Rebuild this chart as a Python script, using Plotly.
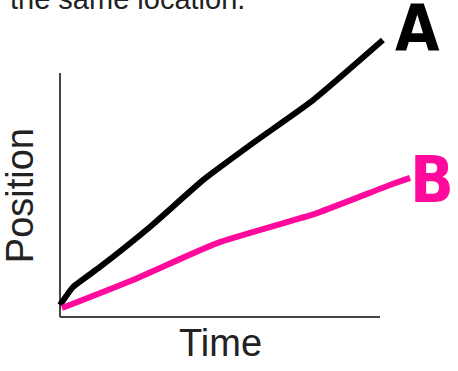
import plotly.graph_objects as go

# hand-sketched position vs time (arbitrary units)
time_a = [0, 0.41, 1.25, 2.81, 4.47, 6.16, 7.91, 10.09]
pos_a = [0.49, 1.23, 2.05, 3.69, 5.61, 7.25, 8.89, 11.35]

time_b = [0.06, 2.28, 4.91, 8.03, 10.31, 10.94]
pos_b = [0.37, 1.52, 3.03, 4.26, 5.41, 5.70]

axis_end_t = 10.0
axis_end_p = 10.0

fig = go.Figure()

fig.add_trace(go.Scatter(x=time_a, y=pos_a, mode="lines",
                         line=dict(color="black", width=6, shape="spline", smoothing=0.5),
                         showlegend=False, hoverinfo="skip"))
fig.add_trace(go.Scatter(x=time_b, y=pos_b, mode="lines",
                         line=dict(color="#ff0a9c", width=6, shape="spline", smoothing=0.5),
                         showlegend=False, hoverinfo="skip"))

# axes drawn as plain lines (no ticks in the sketch)
fig.add_shape(type="line", x0=0, x1=0, y0=0, y1=axis_end_p,
              line=dict(color="#444", width=2), layer="below")
fig.add_shape(type="line", x0=0, x1=axis_end_t, y0=0, y1=0,
              line=dict(color="#444", width=2), layer="below")

fig.add_annotation(text="Time", x=axis_end_t / 2, y=-1.05, xref="x", yref="y",
                   showarrow=False, font=dict(size=38, color="#222", family="Liberation Sans"))
fig.add_annotation(text="Position", x=-1.25, y=4.95, xref="x", yref="y",
                   showarrow=False, textangle=-90,
                   font=dict(size=38, color="#222", family="Liberation Sans"))
# caption line from the page above, mostly cut off at the top edge
fig.add_annotation(text="the same location.", x=0.018, y=1, xref="paper", yref="paper",
                   showarrow=False, xanchor="left", yanchor="middle", yshift=1,
                   font=dict(size=29, color="#222", family="Liberation Sans"))

# handwritten letters
fig.add_annotation(text="<b>A</b>", x=11.16, y=11.8, xref="x", yref="y",
                   showarrow=False,
                   font=dict(size=64, color="black", family="DejaVu Sans Condensed, Roboto"))
fig.add_annotation(text="<b>B</b>", x=11.63, y=5.61, xref="x", yref="y",
                   showarrow=False,
                   font=dict(size=64, color="#ff0a9c", family="DejaVu Sans Condensed, Roboto"))

fig.update_xaxes(range=[-1.875, 12.4375], visible=False, fixedrange=True)
fig.update_yaxes(range=[-2.213, 12.992], visible=False, fixedrange=True)

fig.update_layout(
    width=458, height=371,
    margin=dict(l=0, r=0, t=0, b=0),
    paper_bgcolor="white", plot_bgcolor="white",
)

fig.write_html("out.html", config={"displayModeBar": False},
               post_script="document.body.style.margin='0';")
